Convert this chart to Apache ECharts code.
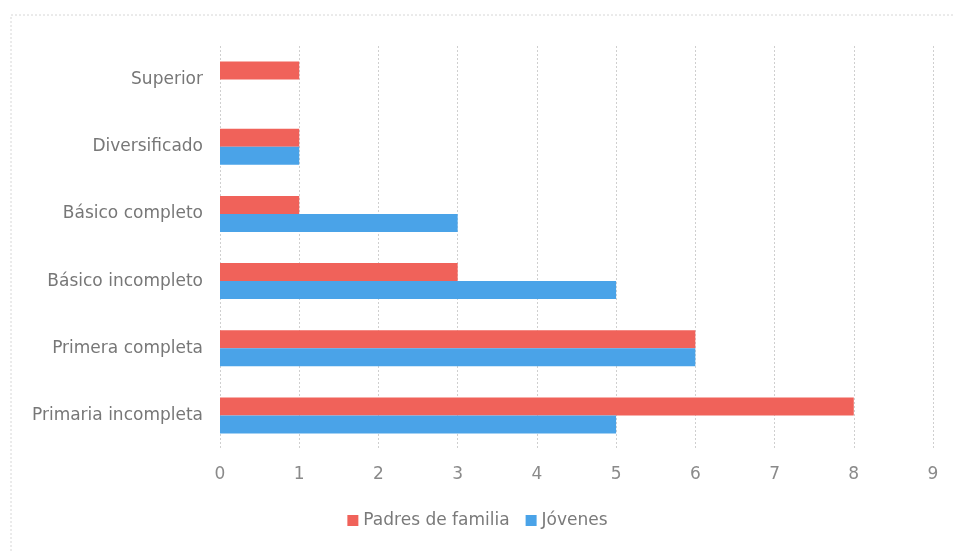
<!DOCTYPE html>
<html><head><meta charset="utf-8">
<script src="https://cdn.jsdelivr.net/npm/echarts@6/dist/echarts.min.js"></script>
<style>html,body{margin:0;padding:0;background:#fff}#c{width:955px;height:552px}</style>
</head><body><div id="c"></div>
<script>
const categories = ['Primaria incompleta','Primera completa','Básico incompleto','Básico completo','Diversificado','Superior'];
const padres = [8, 6, 3, 1, 1, 1];
const jovenes = [5, 6, 5, 3, 1, null];
const xTicks = [0,1,2,3,4,5,6,7,8,9];
const FONT = 'DejaVu Sans, Liberation Sans, Arial';

const chart = echarts.init(document.getElementById('c'));
chart.setOption({
  animation: false,
  backgroundColor: '#fff',
  graphic: [{
    type: 'rect', shape: {x: 11, y: 15, width: 960, height: 560},
    style: {fill: 'none', stroke: '#d6d6d6', lineWidth: 1, lineDash: [2,2]}, silent: true
  }],
  grid: {left: 220, right: 22, top: 46, bottom: 103},
  legend: {
    data: ['Padres de familia','Jóvenes'],
    bottom: 18, left: 'center',
    itemWidth: 11, itemHeight: 11, itemGap: 16,
    icon: 'rect',
    textStyle: {color: '#7a7a7a', fontSize: 17, fontFamily: FONT}
  },
  xAxis: {
    type: 'value', min: 0, max: 9, interval: 1,
    axisLine: {show: false}, axisTick: {show: false},
    axisLabel: {color: '#8a8a8a', fontSize: 17, margin: 17, fontFamily: FONT},
    splitLine: {show: true, lineStyle: {color: '#cfcfcf', type: [2,2], width: 1}}
  },
  yAxis: {
    type: 'category', data: categories,
    axisLine: {show: false}, axisTick: {show: false},
    axisLabel: {color: '#777', fontSize: 17, margin: 17, fontFamily: FONT},
  },
  series: [
    {name: 'Padres de familia', type: 'bar', data: padres, barWidth: 18, barGap: '0%',
     itemStyle: {color: '#f0625a'}},
    {name: 'Jóvenes', type: 'bar', data: jovenes, barWidth: 18, barGap: '0%',
     itemStyle: {color: '#4aa3e8'}}
  ]
});
</script></body></html>
